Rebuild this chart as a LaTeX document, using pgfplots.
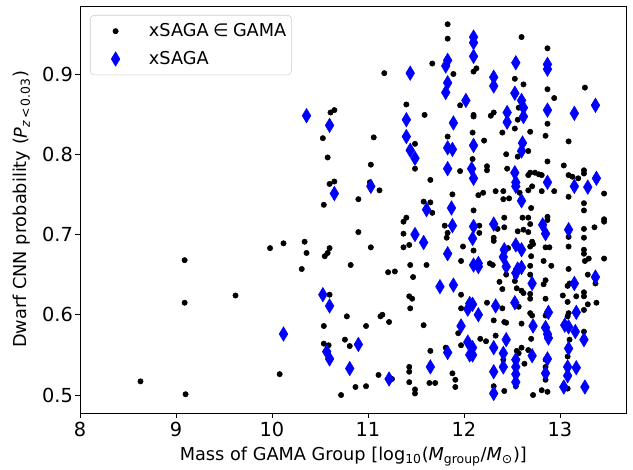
\documentclass[border=0pt]{standalone}
\usepackage{fontspec}
\setmainfont{DejaVu Sans}
\usepackage{pgfplots}
\pgfplotsset{compat=1.18}
\definecolor{mplblue}{RGB}{0,0,255}
\begin{document}
\fontsize{13.3}{16}\selectfont
\begin{tikzpicture}
\begin{axis}[
  scale only axis,
  width=410pt, height=305.25pt,
  xmin=8, xmax=13.695,
  ymin=0.4776, ymax=0.9847,
  xtick={8,9,10,11,12,13},
  ytick={0.5,0.6,0.7,0.8,0.9},
  yticklabel style={inner xsep=1.5pt, /pgf/number format/.cd,fixed,fixed zerofill,precision=1},
  /pgf/number format/assume math mode=true,
  tick align=outside,
  major tick length=3.6pt,
  tick style={black, line width=0.6pt},
  axis line style={line width=0.6pt},
  xtick pos=bottom, ytick pos=left,
  tick label style={font=\fontsize{14.5}{17}\selectfont},
  xticklabel style={inner ysep=3pt},
  label style={font=\fontsize{13.3}{16}\selectfont},
  every axis x label/.style={at={(axis description cs:0.5,-0.108)}, anchor=center},
  every axis y label/.style={at={(axis description cs:-0.106,0.5)}, anchor=center, rotate=90},
  xlabel={Mass of GAMA Group [log\textsubscript{10}({\itshape M}\textsubscript{group}/{\itshape M}\textsubscript{⊙})]},
  ylabel={Dwarf CNN probability ({\itshape P}\textsubscript{{\itshape z}\,<\,0.03})},
  legend style={at={(0,1)}, anchor=north west, xshift=7.5pt, yshift=-6.75pt,
    draw=black!20, rounded corners=3pt, fill=white, fill opacity=0.8, text opacity=1,
    font=\fontsize{13.3}{16}\selectfont, inner xsep=2pt, inner ysep=2pt, row sep=1pt,
    nodes={inner ysep=4pt}},
  legend image code/.code={\path[draw=none, fill=none] (0pt,-3pt) rectangle (40pt,3pt); \draw[#1, fill opacity=1, draw opacity=1, every mark/.append style={fill opacity=1, draw opacity=1}] plot coordinates {(17pt,0pt)};},
  legend cell align=left,
]
\addplot[only marks, mark=*, mark size=2pt, black] table {
8.63 0.517
9.09 0.668
9.09 0.615
9.10 0.501
9.62 0.624
9.98 0.683
10.12 0.689
10.08 0.526
10.31 0.657
10.34 0.691
10.36 0.677
10.53 0.820
10.54 0.737
10.58 0.796
10.61 0.852
10.65 0.855
10.60 0.763
10.65 0.766
10.55 0.673
10.58 0.677
10.60 0.683
10.60 0.625
10.54 0.586
10.54 0.564
10.59 0.562
10.72 0.500
10.76 0.569
10.78 0.598
10.82 0.662
10.81 0.561
10.90 0.744
10.90 0.703
10.87 0.510
10.98 0.511
10.98 0.586
11.03 0.787
11.02 0.765
11.03 0.684
11.06 0.821
11.12 0.755
11.17 0.901
11.13 0.598
11.15 0.600
11.21 0.653
11.28 0.654
11.22 0.591
11.11 0.525
11.25 0.520
11.37 0.716
11.40 0.721
11.37 0.701
11.37 0.684
11.43 0.687
11.40 0.862
11.49 0.813
11.49 0.782
11.44 0.662
11.47 0.647
11.43 0.623
11.46 0.620
11.44 0.608
11.43 0.535
11.43 0.529
11.43 0.516
11.49 0.507
11.49 0.502
11.58 0.741
11.65 0.740
11.67 0.727
11.59 0.849
11.61 0.662
11.65 0.768
11.58 0.587
11.65 0.555
11.64 0.515
11.70 0.515
11.67 0.913
11.83 0.962
11.83 0.944
11.89 0.900
11.83 0.822
11.88 0.750
11.80 0.711
11.83 0.702
11.82 0.696
11.88 0.527
11.91 0.519
11.91 0.510
11.81 0.559
11.94 0.577
11.96 0.861
11.96 0.779
11.99 0.685
11.97 0.667
11.97 0.625
11.97 0.608
11.97 0.562
12.10 0.903
12.13 0.907
12.10 0.849
12.10 0.847
12.09 0.827
12.09 0.794
12.10 0.730
12.10 0.680
12.16 0.711
12.16 0.702
12.15 0.749
12.20 0.752
12.21 0.817
12.24 0.785
12.24 0.780
12.17 0.570
12.23 0.567
12.24 0.615
12.28 0.848
12.31 0.852
12.33 0.754
12.27 0.664
12.30 0.662
12.31 0.696
12.31 0.692
12.35 0.707
12.31 0.593
12.33 0.574
12.31 0.511
12.37 0.641
12.40 0.632
12.40 0.827
12.44 0.800
12.41 0.754
12.41 0.744
12.47 0.745
12.42 0.721
12.42 0.709
12.45 0.782
12.40 0.608
12.42 0.591
12.44 0.590
12.42 0.505
12.41 0.544
12.44 0.650
12.46 0.683
12.53 0.894
12.62 0.887
12.53 0.832
12.56 0.843
12.57 0.858
12.56 0.797
12.58 0.752
12.56 0.704
12.54 0.648
12.53 0.642
12.55 0.633
12.60 0.630
12.62 0.627
12.57 0.610
12.60 0.589
12.55 0.555
12.57 0.552
12.60 0.559
12.54 0.511
12.60 0.946
12.67 0.804
12.61 0.721
12.67 0.721
12.62 0.706
12.63 0.539
12.67 0.556
12.69 0.828
12.69 0.777
12.74 0.777
12.67 0.774
12.78 0.775
12.67 0.755
12.71 0.760
12.70 0.733
12.69 0.713
12.67 0.703
12.71 0.691
12.69 0.685
12.72 0.688
12.70 0.673
12.69 0.661
12.69 0.650
12.69 0.626
12.69 0.620
12.69 0.602
12.71 0.599
12.70 0.570
12.72 0.500
12.81 0.774
12.81 0.754
12.94 0.754
12.85 0.823
12.87 0.838
12.87 0.881
12.87 0.932
12.87 0.791
12.94 0.870
12.87 0.722
12.87 0.718
12.85 0.684
12.89 0.684
12.83 0.667
12.91 0.661
12.85 0.643
12.83 0.638
12.85 0.620
12.85 0.599
12.85 0.544
12.85 0.535
12.85 0.527
12.85 0.519
12.81 0.506
12.87 0.504
13.04 0.786
13.03 0.624
13.09 0.816
13.09 0.774
13.13 0.772
13.19 0.770
13.09 0.747
13.09 0.697
13.09 0.685
13.09 0.657
13.10 0.639
13.08 0.636
13.08 0.616
13.09 0.602
13.08 0.598
13.10 0.569
13.08 0.548
13.08 0.535
13.08 0.508
13.17 0.623
13.26 0.883
13.25 0.780
13.25 0.776
13.25 0.739
13.25 0.730
13.25 0.707
13.25 0.696
13.25 0.681
13.25 0.676
13.26 0.667
13.30 0.670
13.29 0.650
13.25 0.628
13.25 0.623
13.29 0.613
13.25 0.606
13.25 0.579
13.36 0.709
13.37 0.639
13.38 0.615
13.46 0.751
13.46 0.719
13.46 0.716
13.46 0.670
};
\addlegendentry{xSAGA\hspace{0.25em}∈\hspace{0.25em}GAMA}
\addplot[only marks, mark=diamond*, mark size=5.4pt, color=mplblue, mark options={xscale=0.8, fill=mplblue, draw=mplblue}] table {
10.36 0.848
10.12 0.576
10.60 0.836
10.53 0.625
10.60 0.611
10.57 0.554
10.60 0.545
10.65 0.751
10.90 0.563
10.81 0.533
11.03 0.760
11.22 0.520
11.44 0.901
11.40 0.843
11.40 0.822
11.44 0.805
11.49 0.795
11.49 0.700
11.58 0.690
11.61 0.731
11.65 0.535
11.75 0.635
11.83 0.917
11.81 0.910
11.83 0.889
11.81 0.877
11.89 0.839
11.83 0.808
11.88 0.806
11.83 0.782
11.87 0.733
11.88 0.711
11.83 0.676
11.89 0.637
11.83 0.553
11.97 0.586
12.02 0.867
12.04 0.566
12.06 0.550
12.09 0.559
12.09 0.550
12.06 0.614
12.04 0.607
12.09 0.613
12.10 0.946
12.10 0.939
12.10 0.922
12.10 0.811
12.08 0.782
12.10 0.770
12.10 0.710
12.09 0.695
12.10 0.662
12.15 0.664
12.15 0.660
12.15 0.600
12.31 0.896
12.31 0.885
12.31 0.713
12.33 0.611
12.31 0.559
12.31 0.529
12.31 0.502
12.45 0.852
12.45 0.840
12.42 0.681
12.41 0.672
12.44 0.660
12.44 0.569
12.41 0.552
12.41 0.535
12.54 0.914
12.53 0.876
12.60 0.867
12.62 0.858
12.62 0.847
12.61 0.814
12.60 0.804
12.53 0.777
12.54 0.765
12.54 0.760
12.60 0.742
12.54 0.687
12.60 0.681
12.56 0.657
12.60 0.659
12.54 0.652
12.53 0.615
12.54 0.544
12.54 0.535
12.54 0.526
12.54 0.516
12.71 0.639
12.72 0.586
12.71 0.549
12.82 0.712
12.85 0.701
12.87 0.765
12.87 0.855
12.87 0.912
12.87 0.906
12.88 0.603
12.85 0.584
12.87 0.576
12.88 0.571
12.87 0.545
12.85 0.527
13.05 0.587
13.09 0.585
13.09 0.706
13.09 0.558
13.08 0.535
13.08 0.524
13.04 0.510
13.15 0.851
13.15 0.760
13.15 0.639
13.17 0.603
13.16 0.579
13.17 0.534
13.29 0.759
13.25 0.569
13.26 0.510
13.37 0.861
13.38 0.770
13.37 0.647
};
\addlegendentry{xSAGA}
\end{axis}
\pgfresetboundingbox
\path[use as bounding box] (current axis.south west) ++(-60pt,-42pt) rectangle ++(474.75pt,351.75pt);
\end{tikzpicture}
\end{document}
